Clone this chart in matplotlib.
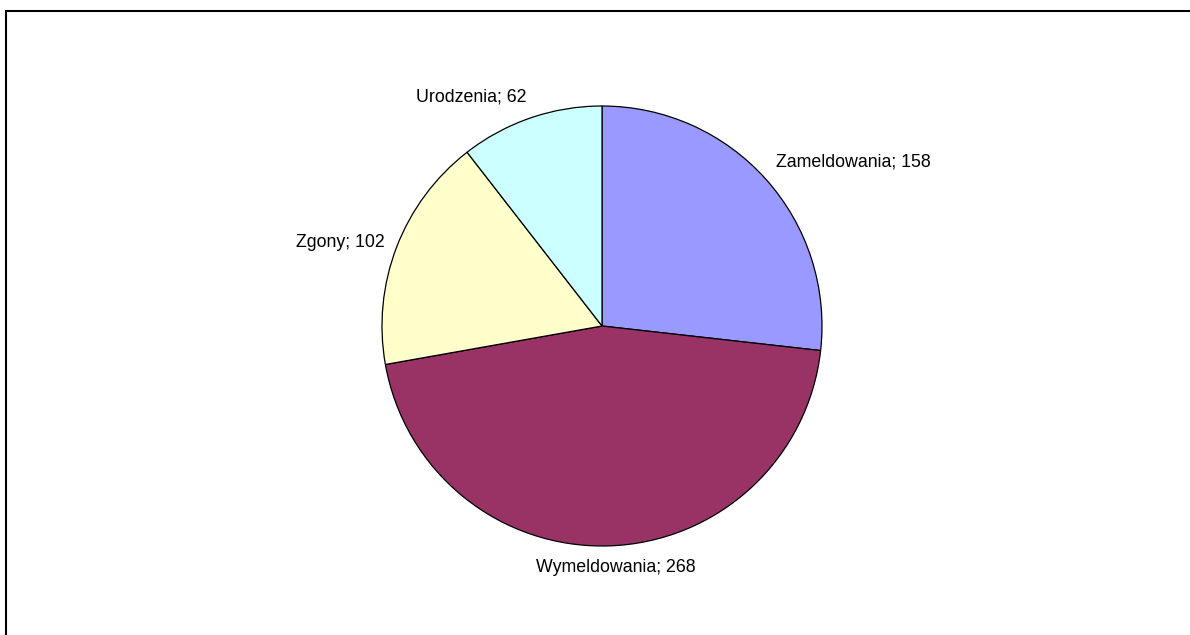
import numpy as np
import matplotlib
matplotlib.use("Agg")
import matplotlib.pyplot as plt
from matplotlib.patches import Rectangle

categories = ["Zameldowania", "Wymeldowania", "Zgony", "Urodzenia"]
values = [158, 268, 102, 62]
colors = ["#9999FF", "#993366", "#FFFFCC", "#CCFFFF"]

plt.rcParams['font.family'] = ['Liberation Sans', 'DejaVu Sans']

W, H, DPI = 1190, 635, 100
fig = plt.figure(figsize=(W / DPI, H / DPI), dpi=DPI)
fig.patch.set_facecolor("white")

# frame border (top & left visible)
fig.add_artist(Rectangle((6 / W, -0.2), 2.0, 1 - 11 / 635 + 0.2,
                         transform=fig.transFigure, fill=False,
                         edgecolor="black", linewidth=1.5))

cx, cy, r = 602, 635 - 326, 220
ax = fig.add_axes([(cx - r) / W, (cy - r) / H, 2 * r / W, 2 * r / H])
wedges, _ = ax.pie(values, colors=colors, startangle=90, counterclock=False,
                   wedgeprops=dict(edgecolor="black", linewidth=0.9),
                   radius=1.0)
ax.set_xlim(-1, 1)
ax.set_ylim(-1, 1)
ax.set_aspect("equal")
ax.axis("off")

for w, cat, val in zip(wedges, categories, values):
    theta = np.deg2rad((w.theta1 + w.theta2) / 2)
    c, s = np.cos(theta), np.sin(theta)
    d = 1.06
    ha = "left" if c > 0.3 else ("right" if c < -0.3 else "center")
    if abs(s) < 0.5:
        va = "center"
    else:
        va = "bottom" if s > 0 else "top"
    x, y = d * c, d * s
    if ha == "center":
        x += 0.03
    ax.text(x, y, f"{cat}; {val}", ha=ha, va=va, fontsize=12.8,
            color="black", clip_on=False)

fig.savefig("out.png", dpi=DPI, facecolor="white")
